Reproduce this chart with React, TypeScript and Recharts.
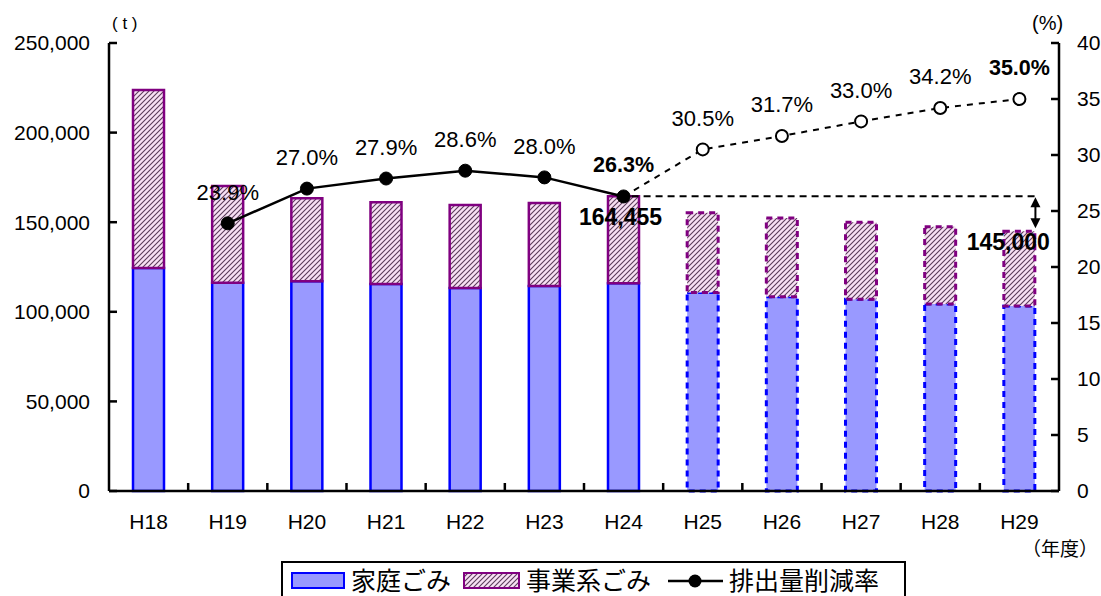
import React from 'react';
import {
  ComposedChart,
  Bar,
  Line,
  XAxis,
  YAxis,
  Cell,
  LabelList,
  ReferenceLine,
  Legend,
} from 'recharts';

// ---- data ----
const years = ['H18', 'H19', 'H20', 'H21', 'H22', 'H23', 'H24', 'H25', 'H26', 'H27', 'H28', 'H29'];
const household = [124400, 116200, 117000, 115500, 113300, 114400, 115900, 110800, 108400, 107000, 104400, 103200];
const business = [99400, 54000, 46300, 45600, 46300, 46300, 48555, 44500, 43900, 43000, 43000, 41800];
const actualRate = [null, 23.9, 27.0, 27.9, 28.6, 28.0, 26.3, null, null, null, null, null];
const planRate = [null, null, null, null, null, null, 26.3, 30.5, 31.7, 33.0, 34.2, 35.0];
const leftTicks = [0, 50000, 100000, 150000, 200000, 250000];
const rightTicks = [0, 5, 10, 15, 20, 25, 30, 35, 40];
const baseTotal = 164455;
const targetTotal = 145000;
const firstPlanIndex = 7;
const boldIndexes = [6, 11];

const data = years.map((y, i) => ({
  year: y,
  household: household[i],
  business: business[i],
  actual: actualRate[i],
  plan: planRate[i],
}));

const FONT = '"Liberation Sans", Arial, sans-serif';
const CJK = '"Noto Sans CJK JP", "Noto Sans", sans-serif';

const CHART_W = 1101;
const AXIS_L = 109;
const AXIS_R = 42;
const HALF_BAND = (CHART_W - AXIS_L - AXIS_R) / years.length / 2;

const fmt = (v: number) => v.toLocaleString('en-US');

const rateLabel = (skip: number[]) => (p: any) => {
  const { x, y, index, value } = p;
  if (value == null || skip.includes(index)) return null;
  const bold = boldIndexes.includes(index);
  return (
    <text
      x={x}
      y={y - 31}
      textAnchor="middle"
      dominantBaseline="central"
      fontFamily={FONT}
      fontSize={bold ? 21.5 : 22}
      fontWeight={bold ? 'bold' : 'normal'}
      fill="#000"
    >
      {Number(value).toFixed(1)}%
    </text>
  );
};

const totalLabel = (p: any) => {
  const { x, y, width, index } = p;
  if (index === 6) {
    return (
      <text x={x + width / 2 - 3} y={y + 21} textAnchor="middle" dominantBaseline="central"
        fontFamily={FONT} fontSize={23} fontWeight="bold" fill="#000">
        {fmt(baseTotal)}
      </text>
    );
  }
  if (index === 11) {
    return (
      <text x={x + width / 2 - 11} y={y + 11} textAnchor="middle" dominantBaseline="central"
        fontFamily={FONT} fontSize={23} fontWeight="bold" fill="#000">
        {fmt(targetTotal)}
      </text>
    );
  }
  return null;
};

const planDot = (p: any) => {
  const { cx, cy, index } = p;
  if (index < firstPlanIndex || cy == null) return <g key={`pd${index}`} />;
  return <circle key={`pd${index}`} cx={cx} cy={cy} r={6} fill="#fff" stroke="#000" strokeWidth={2} />;
};

const boundaryTick = (p: any) => {
  const bx = p.x1 - HALF_BAND;
  return <line x1={bx} y1={p.y1} x2={bx} y2={p.y1 - 8} stroke="#000" strokeWidth={2.5} />;
};

const LegendContent = () => (
  <div style={{ position: 'relative', width: 621, height: 40, border: '2px solid #000', background: '#fff', fontFamily: CJK, fontSize: 25, color: '#000' }}>
    <svg width={621} height={40} style={{ position: 'absolute', left: 0, top: 0 }}>
      <defs>
        <pattern id="hatchLegend" patternUnits="userSpaceOnUse" width="5" height="5">
          <rect width="5" height="5" fill="#f8e0f4" />
          <path d="M-1,1 l2,-2 M0,5 l5,-5 M4,6 l2,-2" stroke="#5a3c5a" strokeWidth="1.1" />
        </pattern>
      </defs>
      <rect x={9} y={10} width={52} height={15} fill="#9999ff" stroke="#0000ff" strokeWidth={2} />
      <rect x={181} y={10} width={55} height={15} fill="url(#hatchLegend)" stroke="#800080" strokeWidth={2} />
      <line x1={385} y1={18} x2={440} y2={18} stroke="#000" strokeWidth={2.5} />
      <circle cx={412} cy={18} r={6.5} fill="#000" />
    </svg>
    <span style={{ position: 'absolute', left: 68, top: 0, lineHeight: '32px' }}>家庭ごみ</span>
    <span style={{ position: 'absolute', left: 243, top: 0, lineHeight: '32px' }}>事業系ごみ</span>
    <span style={{ position: 'absolute', left: 446, top: 0, lineHeight: '32px' }}>排出量削減率</span>
  </div>
);

export default function App() {
  return (
    <div style={{ position: 'absolute', left: 0, top: 0, width: 1101, height: 596, background: '#fff', overflow: 'hidden' }}>
      <ComposedChart
        width={CHART_W}
        height={596}
        data={data}
        margin={{ top: 43, right: 0, left: 0, bottom: 55 }}
        barSize={31}
      >
        <defs>
          <pattern id="hatch" patternUnits="userSpaceOnUse" width="5" height="5">
            <rect width="5" height="5" fill="#f8e0f4" />
            <path d="M-1,1 l2,-2 M0,5 l5,-5 M4,6 l2,-2" stroke="#5a3c5a" strokeWidth="1.1" />
          </pattern>
        </defs>
        <XAxis
          dataKey="year"
          height={50}
          interval={0}
          tickSize={0}
          tickMargin={23}
          tickLine={false}
          axisLine={{ stroke: '#000', strokeWidth: 2.5 }}
          tick={{ fill: '#000', fontSize: 21, fontFamily: FONT }}
        />
        <YAxis
          yAxisId="left"
          orientation="left"
          width={AXIS_L}
          domain={[0, 250000]}
          ticks={leftTicks}
          interval={0}
          tickSize={-8}
          tickMargin={27}
          tickFormatter={fmt}
          axisLine={{ stroke: '#000', strokeWidth: 2.5 }}
          tickLine={{ stroke: '#000', strokeWidth: 2.5 }}
          tick={{ fill: '#000', fontSize: 21, fontFamily: FONT }}
        />
        <YAxis
          yAxisId="right"
          orientation="right"
          width={AXIS_R}
          domain={[0, 40]}
          ticks={rightTicks}
          interval={0}
          tickSize={-8}
          tickMargin={26}
          axisLine={{ stroke: '#000', strokeWidth: 2.5 }}
          tickLine={{ stroke: '#000', strokeWidth: 2.5 }}
          tick={{ fill: '#000', fontSize: 21, fontFamily: FONT }}
        />
        <Legend
          layout="horizontal"
          verticalAlign="middle"
          align="center"
          wrapperStyle={{ left: 281, top: 561, width: 625, height: 44 }}
          content={() => <LegendContent />}
        />
        <Bar dataKey="household" stackId="a" yAxisId="left" fill="#9999ff" isAnimationActive={false}>
          {data.map((d, i) => (
            <Cell
              key={`h${i}`}
              fill="#9999ff"
              stroke="#0000ff"
              strokeWidth={i >= firstPlanIndex ? 3 : 2.5}
              strokeDasharray={i >= firstPlanIndex ? '6 5' : undefined}
            />
          ))}
        </Bar>
        <Bar dataKey="business" stackId="a" yAxisId="left" fill="url(#hatch)" isAnimationActive={false}>
          {data.map((d, i) => (
            <Cell
              key={`b${i}`}
              fill="url(#hatch)"
              stroke="#800080"
              strokeWidth={i >= firstPlanIndex ? 3 : 2.5}
              strokeDasharray={i >= firstPlanIndex ? '6 5' : undefined}
            />
          ))}
          <LabelList dataKey="business" content={totalLabel} />
        </Bar>
        {years.slice(1).map((y) => (
          <ReferenceLine
            key={`bt${y}`}
            yAxisId="left"
            segment={[{ x: y, y: 0 }, { x: y, y: 0 }]}
            ifOverflow="visible"
            shape={boundaryTick}
          />
        ))}
        <ReferenceLine
          yAxisId="left"
          segment={[{ x: 'H24', y: baseTotal }, { x: 'H29', y: baseTotal }]}
          ifOverflow="visible"
          shape={(p: any) => (
            <line x1={p.x1 + 8} y1={p.y1} x2={p.x2 + 16} y2={p.y2} stroke="#000" strokeWidth={2} strokeDasharray="7 5" />
          )}
        />
        <ReferenceLine
          yAxisId="left"
          segment={[{ x: 'H29', y: baseTotal }, { x: 'H29', y: targetTotal }]}
          ifOverflow="visible"
          shape={(p: any) => {
            const ax = p.x1 + 16;
            const top = p.y1 + 1;
            const bot = p.y2 - 3;
            return (
              <g>
                <line x1={ax} y1={top + 8} x2={ax} y2={bot - 8} stroke="#000" strokeWidth={2} />
                <polygon points={`${ax},${top} ${ax - 5},${top + 10} ${ax + 5},${top + 10}`} fill="#000" />
                <polygon points={`${ax},${bot} ${ax - 5},${bot - 10} ${ax + 5},${bot - 10}`} fill="#000" />
              </g>
            );
          }}
        />
        <Line
          dataKey="plan"
          yAxisId="right"
          stroke="#000"
          strokeWidth={2}
          strokeDasharray="6 6"
          dot={planDot}
          activeDot={false}
          isAnimationActive={false}
          connectNulls={false}
        >
          <LabelList dataKey="plan" content={rateLabel([6])} />
        </Line>
        <Line
          dataKey="actual"
          yAxisId="right"
          stroke="#000"
          strokeWidth={2.5}
          dot={{ r: 6.5, fill: '#000', stroke: '#000', strokeWidth: 1 }}
          activeDot={false}
          isAnimationActive={false}
          connectNulls={false}
        >
          <LabelList dataKey="actual" content={rateLabel([])} />
        </Line>
      </ComposedChart>
      <div style={{ position: 'absolute', left: 112, top: 14, fontFamily: FONT, fontSize: 17, color: '#000', whiteSpace: 'pre' }}>( t )</div>
      <div style={{ position: 'absolute', left: 1032, top: 12, fontFamily: FONT, fontSize: 20, color: '#000', whiteSpace: 'pre' }}>(%)</div>
      <div style={{ position: 'absolute', left: 1022, top: 535, fontFamily: CJK, fontSize: 19, color: '#000', lineHeight: '26px', whiteSpace: 'pre' }}>（年度）</div>
    </div>
  );
}
